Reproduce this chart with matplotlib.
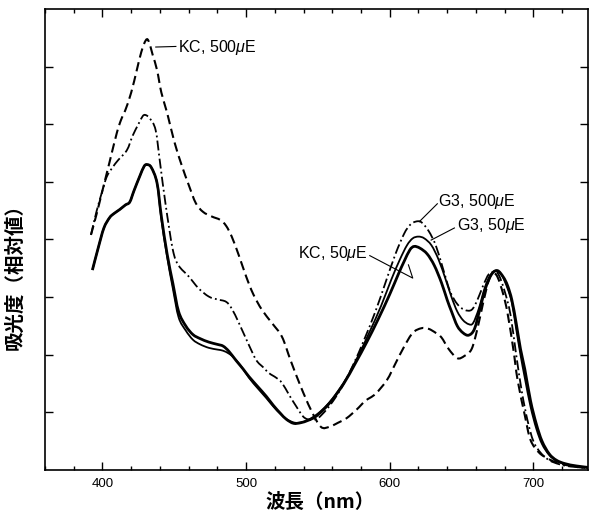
import matplotlib
matplotlib.use("Agg")
import numpy as np
import matplotlib.pyplot as plt
from matplotlib.path import Path
from matplotlib.patches import PathPatch
from matplotlib.ticker import MultipleLocator, NullFormatter

plt.rcParams['font.family'] = ['Liberation Sans', 'DejaVu Sans']
plt.rcParams['mathtext.fontset'] = 'custom'
plt.rcParams['mathtext.rm'] = 'Liberation Sans'
plt.rcParams['mathtext.it'] = 'Liberation Sans:italic'

# ---- data (wavelength nm, relative absorbance) ----
kc500_x = [392, 396, 400, 405, 410, 413, 416, 420, 424, 427, 430, 432, 435, 438, 441, 445,
           450, 455, 460, 465, 470, 476, 482, 486, 490, 495, 500, 505, 511, 518, 525, 531,
           538, 545, 552, 558, 564, 570, 577, 583, 590, 598, 604, 610, 616, 622, 627, 632,
           636, 641, 647, 652, 657, 661, 665, 669, 672, 675, 679, 682, 686, 689, 694, 698,
           704, 710, 715, 722, 731, 740]
kc500_y = [4.08, 4.45, 4.85, 5.35, 5.85, 6.08, 6.25, 6.55, 6.95, 7.25, 7.45, 7.45, 7.2, 6.94, 6.55, 6.2,
           5.7, 5.3, 4.95, 4.63, 4.48, 4.40, 4.34, 4.24, 4.05, 3.72, 3.36, 3.05, 2.78, 2.55, 2.31, 1.9,
           1.45, 1.05, 0.75, 0.75, 0.82, 0.9, 1.05, 1.2, 1.32, 1.56, 1.85, 2.14, 2.38, 2.46, 2.45, 2.38,
           2.3, 2.1, 1.94, 1.98, 2.1, 2.45, 2.9, 3.3, 3.41, 3.35, 3.05, 2.72, 2.1, 1.56, 0.95, 0.52,
           0.3, 0.2, 0.14, 0.09, 0.05, 0.03]

g3500_x = [392, 396, 400, 403, 407, 411, 417, 421, 425, 428, 430, 433, 437, 440, 444, 449,
           453, 460, 467, 474, 480, 486, 490, 495, 501, 507, 512, 516, 521, 525, 530, 535,
           540, 545, 550, 556, 562, 568, 575, 582, 590, 597, 604, 610, 614, 618, 622, 627,
           632, 637, 642, 647, 652, 657, 661, 665, 669, 673, 676, 680, 684, 688, 692, 696,
           700, 705, 711, 718, 726, 740]
g3500_y = [4.08, 4.5, 4.85, 5.09, 5.25, 5.38, 5.55, 5.8, 6.0, 6.14, 6.16, 6.1, 5.9, 5.35, 4.6, 3.82,
           3.55, 3.36, 3.15, 3.01, 2.96, 2.92, 2.8, 2.55, 2.22, 1.91, 1.78, 1.68, 1.6, 1.51, 1.3, 1.1,
           0.92, 0.87, 0.9, 1.05, 1.25, 1.5, 1.85, 2.25, 2.75, 3.25, 3.75, 4.1, 4.25, 4.31, 4.3, 4.15,
           3.9, 3.5, 3.1, 2.88, 2.78, 2.78, 2.95, 3.2, 3.4, 3.44, 3.38, 3.1, 2.7, 2.0, 1.35, 0.85,
           0.5, 0.3, 0.17, 0.1, 0.06, 0.03]

kc50_x = [393, 397, 401, 405, 408, 412, 416, 419, 422, 426, 429, 431, 434, 438, 441, 445,
          449, 453, 458, 463, 468, 474, 480, 484, 488, 493, 498, 502, 508, 514, 519, 524,
          528, 533, 538, 543, 548, 554, 560, 568, 576, 584, 592, 600, 606, 610, 614, 617,
          621, 626, 631, 636, 640, 643, 647, 651, 655, 659, 663, 667, 671, 675, 679, 682,
          685, 688, 691, 694, 698, 702, 706, 711, 716, 722, 730, 740]
kc50_y = [3.47, 3.85, 4.2, 4.38, 4.45, 4.52, 4.6, 4.65, 4.85, 5.1, 5.27, 5.3, 5.25, 4.98, 4.4, 3.75,
          3.24, 2.75, 2.5, 2.35, 2.28, 2.22, 2.18, 2.15, 2.06, 1.9, 1.75, 1.62, 1.45, 1.28, 1.12, 0.98,
          0.88, 0.81, 0.82, 0.86, 0.92, 1.05, 1.22, 1.5, 1.85, 2.22, 2.62, 3.05, 3.4, 3.62, 3.82, 3.88,
          3.85, 3.75, 3.55, 3.25, 2.95, 2.75, 2.5, 2.38, 2.34, 2.45, 2.82, 3.18, 3.4, 3.46, 3.35, 3.2,
          2.95, 2.55, 2.1, 1.75, 1.2, 0.8, 0.5, 0.28, 0.17, 0.11, 0.07, 0.04]

g350_x = [393, 397, 401, 405, 408, 412, 416, 419, 422, 426, 429, 431, 434, 438, 441, 445,
          449, 453, 458, 463, 468, 474, 480, 484, 488, 491, 496, 502, 508, 514, 519, 524,
          529, 534, 539, 544, 550, 556, 562, 570, 578, 586, 594, 601, 607, 612, 616, 620,
          624, 629, 634, 639, 643, 647, 651, 655, 658, 662, 666, 670, 674, 678, 682, 685,
          688, 691, 694, 698, 702, 706, 711, 716, 722, 730, 740]
g350_y = [3.47, 3.85, 4.2, 4.38, 4.45, 4.52, 4.6, 4.65, 4.85, 5.1, 5.27, 5.3, 5.25, 4.98, 4.35, 3.7,
          3.15, 2.65, 2.42, 2.26, 2.18, 2.12, 2.09, 2.07, 2.02, 1.96, 1.82, 1.6, 1.42, 1.25, 1.1, 0.97,
          0.87, 0.82, 0.83, 0.88, 0.98, 1.12, 1.3, 1.6, 1.98, 2.4, 2.85, 3.3, 3.65, 3.9, 4.02, 4.05,
          4.02, 3.9, 3.65, 3.3, 3.0, 2.75, 2.6, 2.53, 2.55, 2.8, 3.15, 3.38, 3.46, 3.38, 3.15, 2.9,
          2.45, 2.0, 1.6, 1.1, 0.72, 0.45, 0.26, 0.16, 0.1, 0.06, 0.04]

x_ticks = [400, 500, 600, 700]
y_ticks = [1, 2, 3, 4, 5, 6, 7]


def smooth_path(xs, ys):
    """Bezier path passing through the read points (Catmull-Rom tangents)."""
    p = np.column_stack([xs, ys]).astype(float)
    n = len(p)
    verts = [p[0]]
    codes = [Path.MOVETO]
    for i in range(n - 1):
        p0 = p[i - 1] if i > 0 else p[i]
        p1 = p[i]
        p2 = p[i + 1]
        p3 = p[i + 2] if i + 2 < n else p[i + 1]
        c1 = p1 + (p2 - p0) / 6.0
        c2 = p2 - (p3 - p1) / 6.0
        verts += [c1, c2, p2]
        codes += [Path.CURVE4] * 3
    return Path(verts, codes)


fig = plt.figure(figsize=(5.9, 5.16), dpi=100)
ax = fig.add_axes([45 / 590, 46 / 516, 543 / 590, 461 / 516])

series = [
    (kc500_x, kc500_y, 1.5, (0, (4.5, 2.3))),
    (g3500_x, g3500_y, 1.3, (0, (5.5, 1.8, 1.0, 1.8))),
    (g350_x, g350_y, 1.3, '-'),
    (kc50_x, kc50_y, 2.0, '-'),
]
for xs, ys, lw, ls in series:
    patch = PathPatch(smooth_path(xs, ys), facecolor='none', edgecolor='black',
                      lw=lw, linestyle=ls, joinstyle='round', capstyle='butt')
    ax.add_patch(patch)

ax.set_xlim(360, 738)
ax.set_ylim(0, 8)
ax.set_xticks(x_ticks)
ax.xaxis.set_minor_locator(MultipleLocator(20))
ax.set_yticks(y_ticks)
ax.yaxis.set_major_formatter(NullFormatter())
ax.tick_params(axis='both', which='major', direction='in', length=6, width=1.0,
               top=True, right=True, labelsize=9.5, pad=6)
ax.tick_params(axis='x', which='minor', direction='in', length=3, width=1.0, top=True)
for s in ax.spines.values():
    s.set_linewidth(1.2)

# annotations
lab_fs = 11.5
ax.plot([437.1, 451.1], [7.34, 7.35], color='black', lw=0.8)
ax.text(452.3, 7.34, r'KC, 500$\mu$E', fontsize=lab_fs, va='center', ha='left')

ax.plot([633.1, 620.6], [4.62, 4.31], color='black', lw=0.8)
ax.text(633.4, 4.66, r'G3, 500$\mu$E', fontsize=lab_fs, va='center', ha='left')

ax.plot([645.0, 628.8], [4.20, 3.99], color='black', lw=0.8)
ax.text(647.0, 4.24, r'G3, 50$\mu$E', fontsize=lab_fs, va='center', ha='left')

ax.plot([586.1, 616.0, 613.0], [3.72, 3.33, 3.56], color='black', lw=0.8)
ax.text(535.9, 3.76, r'KC, 50$\mu$E', fontsize=lab_fs, va='center', ha='left')

cjk = ['Noto Sans CJK JP', 'DejaVu Sans']
fig.text(320 / 590, 1 - 502 / 516, '波長（nm）', family=cjk, fontsize=14,
         fontweight='bold', ha='center', va='center')
fig.text(15 / 590, 1 - 272 / 516, '吸光度（相対値）', family=cjk, fontsize=14,
         fontweight='bold', ha='center', va='center', rotation=90)

fig.savefig('out.png', dpi=100)
